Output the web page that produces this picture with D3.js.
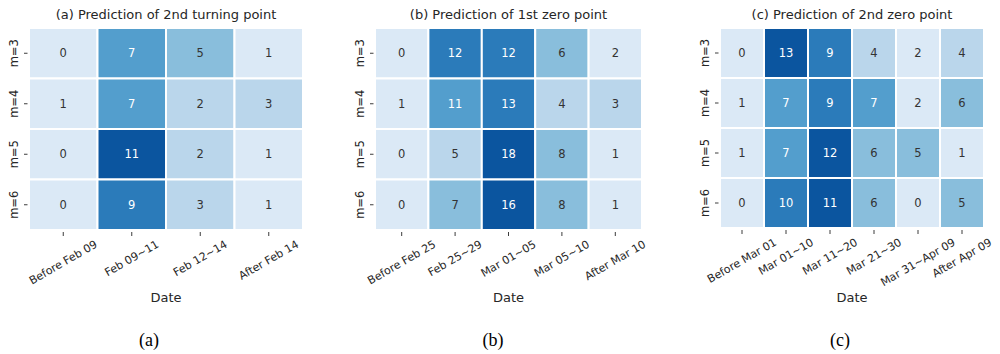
<!DOCTYPE html>
<html>
<head>
<meta charset="utf-8">
<script src="https://cdn.jsdelivr.net/npm/d3@7"></script>
<style>
  body { margin: 0; background: #fff; }
  svg text { font-family: "DejaVu Sans", sans-serif; fill: #262626; }
</style>
</head>
<body>
<svg id="chart" width="1000" height="354"></svg>
<script>
const rows = ["m=3", "m=4", "m=5", "m=6"];

const catsA = ["Before Feb 09", "Feb 09~11", "Feb 12~14", "After Feb 14"];
const valuesA = [
  [0, 7, 5, 1],
  [1, 7, 2, 3],
  [0, 11, 2, 1],
  [0, 9, 3, 1]
];

const catsB = ["Before Feb 25", "Feb 25~29", "Mar 01~05", "Mar 05~10", "After Mar 10"];
const valuesB = [
  [0, 12, 12, 6, 2],
  [1, 11, 13, 4, 3],
  [0, 5, 18, 8, 1],
  [0, 7, 16, 8, 1]
];

const catsC = ["Before Mar 01", "Mar 01~10", "Mar 11~20", "Mar 21~30", "Mar 31~Apr 09", "After Apr 09"];
const valuesC = [
  [0, 13, 9, 4, 2, 4],
  [1, 7, 9, 7, 2, 6],
  [1, 7, 12, 6, 5, 1],
  [0, 10, 11, 6, 0, 5]
];

const titles = ["(a) Prediction of 2nd turning point", "(b) Prediction of 1st zero point", "(c) Prediction of 2nd zero point"];
const captions = ["(a)", "(b)", "(c)"];

// seaborn "Blues" palette, 6 steps
const blues = ["#dbe9f6", "#bad6eb", "#89bedc", "#539ecd", "#2b7bba", "#0b559f"];

const svg = d3.select("#chart");

function drawPanel(cats, values, title, caption, box) {
  const g = svg.append("g");

  const x = d3.scaleBand().domain(cats).range([box.x0, box.x1]);
  const y = d3.scaleBand().domain(rows).range([box.y0, box.y1]);
  const vmax = d3.max(values.flat());
  const color = d3.scaleQuantize().domain([0, vmax]).range(blues);

  const cells = [];
  values.forEach((r, i) => r.forEach((v, j) => cells.push({ row: rows[i], cat: cats[j], v: v })));

  g.selectAll("rect")
    .data(cells)
    .join("rect")
    .attr("x", d => x(d.cat))
    .attr("y", d => y(d.row))
    .attr("width", x.bandwidth())
    .attr("height", y.bandwidth())
    .attr("fill", d => color(d.v))
    .attr("stroke", "#fff")
    .attr("stroke-width", 2);

  g.selectAll("text.val")
    .data(cells)
    .join("text")
    .attr("class", "val")
    .attr("x", d => x(d.cat) + x.bandwidth() / 2)
    .attr("y", d => y(d.row) + y.bandwidth() / 2)
    .attr("text-anchor", "middle")
    .attr("dominant-baseline", "central")
    .style("font-size", "11.5px")
    .style("fill", d => blues.indexOf(color(d.v)) >= 3 ? "#fff" : "#333")
    .text(d => d.v);

  // y axis ticks + rotated labels
  rows.forEach(r => {
    const cy = y(r) + y.bandwidth() / 2;
    g.append("line")
      .attr("x1", box.x0 - 5).attr("x2", box.x0 - 1.5)
      .attr("y1", cy).attr("y2", cy)
      .attr("stroke", "#262626").attr("stroke-width", 0.9);
    g.append("text")
      .attr("transform", `translate(${box.x0 - 15},${cy}) rotate(-90)`)
      .attr("text-anchor", "middle")
      .attr("dominant-baseline", "central")
      .style("font-size", "11.5px")
      .text(r);
  });

  // x axis ticks + labels rotated 30deg, centred on the tick
  cats.forEach(c => {
    const cx = x(c) + x.bandwidth() / 2;
    g.append("line")
      .attr("x1", cx).attr("x2", cx)
      .attr("y1", box.y1 + 2).attr("y2", box.y1 + 6)
      .attr("stroke", "#262626").attr("stroke-width", 0.9);
    const t = g.append("text")
      .attr("text-anchor", "middle")
      .attr("dominant-baseline", "central")
      .style("font-size", "11px")
      .text(c);
    const len = t.node().getComputedTextLength();
    const h = len * 0.5 + 12.5 * 0.866;
    t.attr("transform", `translate(${cx},${box.y1 + 8 + h / 2}) rotate(-30)`);
  });

  const mid = (box.x0 + box.x1) / 2;
  g.append("text")
    .attr("x", mid).attr("y", 19)
    .attr("text-anchor", "middle")
    .style("font-size", "13px")
    .text(title);

  g.append("text")
    .attr("x", mid).attr("y", 302)
    .attr("text-anchor", "middle")
    .style("font-size", "13px")
    .text("Date");

  g.append("text")
    .attr("x", box.cap).attr("y", 346)
    .attr("text-anchor", "middle")
    .style("font-family", "'Liberation Serif', serif")
    .style("font-size", "18px")
    .style("fill", "#000")
    .text(caption);
}

drawPanel(catsA, valuesA, titles[0], captions[0], { x0: 29, x1: 303, y0: 28, y1: 230, cap: 149 });
drawPanel(catsB, valuesB, titles[1], captions[1], { x0: 375, x1: 642, y0: 28, y1: 230, cap: 493 });
drawPanel(catsC, valuesC, titles[2], captions[2], { x0: 720, x1: 984, y0: 28, y1: 228, cap: 840 });
</script>
</body>
</html>
